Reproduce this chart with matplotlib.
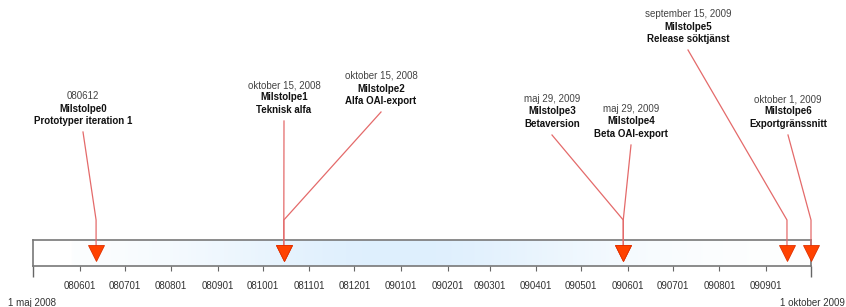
import datetime as dt
import numpy as np
import matplotlib
matplotlib.use("Agg")
import matplotlib.pyplot as plt
import matplotlib.dates as mdates

plt.rcParams['font.family'] = ['Liberation Sans', 'DejaVu Sans']

# timeline data
start = dt.date(2008, 5, 1)
end = dt.date(2009, 10, 1)
start_label = "1 maj 2008"
end_label = "1 oktober 2009"

ms_dates = [dt.date(2008, 6, 12), dt.date(2008, 10, 15), dt.date(2008, 10, 15),
            dt.date(2009, 5, 29), dt.date(2009, 5, 29), dt.date(2009, 9, 15),
            dt.date(2009, 10, 1)]
ms_datetext = ["080612", "oktober 15, 2008", "oktober 15, 2008", "maj 29, 2009",
               "maj 29, 2009", "september 15, 2009", "oktober 1, 2009"]
ms_names = ["Milstolpe0", "Milstolpe1", "Milstolpe2", "Milstolpe3",
            "Milstolpe4", "Milstolpe5", "Milstolpe6"]
ms_desc = ["Prototyper iteration 1", "Teknisk alfa", "Alfa OAI-export", "Betaversion",
           "Beta OAI-export", "Release söktjänst", "Exportgränssnitt"]

# label layout (pixel positions: label centre x, top y)
lab_x = [83, 284, 381, 552, 631, 688, 788]
lab_y = [96, 85, 76, 99, 109, 14, 99]

W, H = 846, 307
bar_l, bar_r, bar_t, bar_b = 33, 811, 240, 266

fig = plt.figure(figsize=(W / 100, H / 100), dpi=100)

# bar axes with month ticks
axb = fig.add_axes([bar_l / W, (H - bar_b) / H, (bar_r - bar_l) / W, (bar_b - bar_t) / H])
x0, x1 = mdates.date2num(start), mdates.date2num(end)
axb.set_xlim(x0, x1)
axb.set_ylim(0, 1)
grad_x = np.linspace(0, 1, 400)
peak = np.exp(-((grad_x - 0.47) / 0.27) ** 2)
peak[grad_x < 0.05] = 0
white = np.array([1.0, 1.0, 1.0])
blue = np.array([222, 239, 253]) / 255
img = white[None, :] * (1 - peak[:, None]) + blue[None, :] * peak[:, None]
axb.imshow(img[None, :, :], extent=[x0, x1, 0, 1], aspect='auto', zorder=0)
axb.set_yticks([])
months = [dt.date(2008 + (m - 1) // 12, (m - 1) % 12 + 1, 1) for m in range(6, 6 + 16)]
axb.set_xticks([mdates.date2num(m) for m in months])
axb.set_xticklabels([m.strftime("%y%m%d") for m in months], fontsize=7, color='#333333')
axb.tick_params(axis='x', length=3.5, width=0.8, color='#666666', pad=7)
axb.set_xticks([x0, x1], minor=True)
axb.tick_params(axis='x', which='minor', length=8, width=1, color='#666666')
for s in axb.spines.values():
    s.set_color('#787878')
    s.set_linewidth(1.2)
axb.spines['right'].set_visible(False)

# overlay axes in pixel space for y, same x mapping as bar
ax = fig.add_axes([0, 0, 1, 1], facecolor='none')
px_per_day = (bar_r - bar_l) / (x1 - x0)
ax.set_xlim(x0 - bar_l / px_per_day, x0 + (W - bar_l) / px_per_day)
ax.set_ylim(H, 0)
ax.axis('off')

ax.plot([x1, x1], [bar_t, bar_b], color='#787878', lw=1.2)

line_c = '#e46a6a'
bend_y = 220
for i, d in enumerate(ms_dates):
    xd = mdates.date2num(d)
    lx = x0 + (lab_x[i] - bar_l) / px_per_day
    y = lab_y[i]
    ax.text(lx, y, ms_datetext[i], ha='center', va='center', fontsize=7, color='#444444')
    ax.text(lx, y + 12.5, ms_names[i], ha='center', va='center', fontsize=7,
            fontweight='bold', color='#111111')
    ax.text(lx, y + 25, ms_desc[i], ha='center', va='center', fontsize=7,
            fontweight='bold', color='#111111')
    ax.plot([lx, xd, xd], [y + 36, bend_y, 250], color=line_c, lw=0.9, zorder=3)
    ax.plot(xd, 253, marker='v', markersize=11, color='#ff4200',
            markeredgecolor='#e03000', markeredgewidth=0.6, zorder=4)

ax.text(x0 - 25 / px_per_day, 303, start_label, ha='left', va='center', fontsize=7, color='#333333')
ax.text(x0 + (W - bar_l - 1) / px_per_day, 303, end_label, ha='right', va='center',
        fontsize=7, color='#333333')

fig.savefig("out.png", dpi=100)
